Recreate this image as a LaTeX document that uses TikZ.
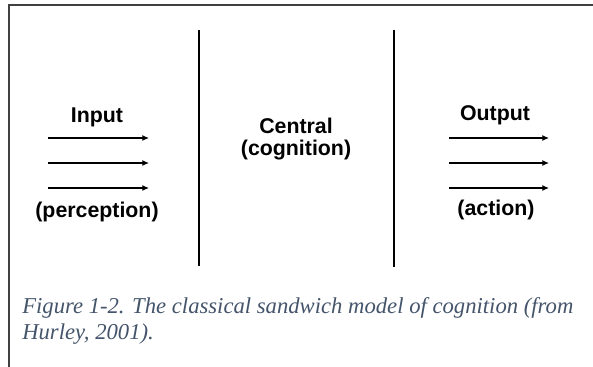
\documentclass[tikz,border=0pt]{standalone}
\usepackage{fontspec}
\setmainfont{Liberation Serif}
\setsansfont{Liberation Sans}
\usetikzlibrary{arrows.meta, positioning}
\definecolor{captionblue}{RGB}{68,84,106}
\tikzset{tag/.style={font=\sffamily\bfseries\fontsize{16}{16.5}\selectfont,align=center,inner sep=0pt},
         caption/.style={font=\itshape\fontsize{17}{20}\selectfont,text=captionblue,align=left,inner sep=0pt},
         frame/.style={draw=black!75,line width=0.8pt},
         divider/.style={draw=black,line width=1.6pt},
         stream/.style={-{Latex[length=5pt,width=4.5pt]},line width=0.9pt}}

\begin{document}
\begin{tikzpicture}[x=0.75pt,y=-0.75pt]
    \useasboundingbox (0,0) rectangle (593,367);
    % outer frame, only top and left edge show
    \coordinate (fbl) at (9,372);
    \coordinate (ftl) at (9,5);
    \coordinate (ftr) at (598,5);
    \draw[frame] (fbl) -- (ftl) -- (ftr);
    % the two walls of the sandwich
    \coordinate (w1t) at (199,30);
    \coordinate (w1b) at (199,266);
    \coordinate (w2t) at (394,30);
    \coordinate (w2b) at (394,267);
    \draw[divider] (w1t) -- (w1b);
    \draw[divider] (w2t) -- (w2b);
    \node (input) [tag] at (97,117) {Input};
    \node (perception) [tag] at (97,212) {(perception)};
    \node (central) [tag] at (296,139) {Central\\(cognition)};
    \node (output) [tag] at (495,115) {Output};
    \node (action) [tag] at (496,210) {(action)};
    \foreach \y [count=\i] in {138,163,188} {
        \coordinate (in\i a) at (48,\y);
        \coordinate (in\i b) at (149,\y);
        \coordinate (out\i a) at (449,\y);
        \coordinate (out\i b) at (549,\y);
        \draw[stream] (in\i a) -- (in\i b);
        \draw[stream] (out\i a) -- (out\i b);
    }
    \node (cap) [caption, anchor=north west] at (22,297) {Figure 1-2. The classical sandwich model of cognition (from\\Hurley, 2001).};
\end{tikzpicture}
\end{document}
